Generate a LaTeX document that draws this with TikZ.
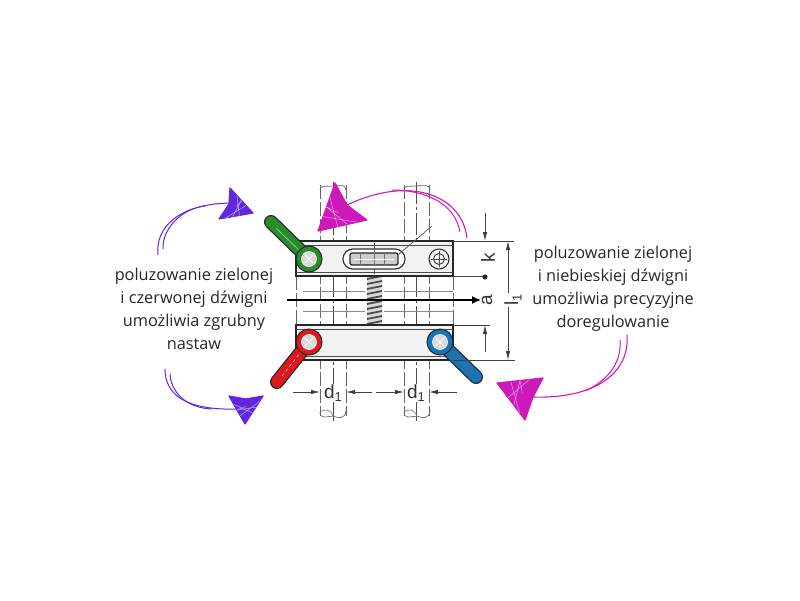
\documentclass[tikz,border=0pt]{standalone}
\usepackage{fontspec}
\setmainfont{Open Sans}
\setsansfont{Liberation Sans}
\usetikzlibrary{arrows.meta,calc}
\definecolor{violetpen}{RGB}{98,38,222}
\definecolor{magentapen}{RGB}{205,25,185}
\definecolor{handlegreen}{RGB}{40,140,40}
\definecolor{handlered}{RGB}{220,25,30}
\definecolor{handleblue}{RGB}{25,115,185}
\definecolor{partgrey}{RGB}{242,242,242}
\tikzset{
  caption/.style={align=center,font=\fontsize{16.3}{23}\selectfont,text=black!85},
  outline/.style={draw=black!85,line width=1.3pt},
  hidden/.style={draw=black!60,line width=0.8pt,dash pattern=on 14pt off 3pt},
  axisline/.style={draw=black!70,line width=0.8pt,dash pattern=on 22pt off 3pt on 3pt off 3pt},
  dimline/.style={draw=black!75,line width=0.8pt},
  dimtip/.style={dimline,-{Latex[length=9pt,width=4.5pt]}},
  dimtext/.style={font=\sffamily\fontsize{19}{19}\selectfont,text=black!80},
  lever/.style={line cap=round},
}
% Subscript one of the dimension labels
\newcommand{\subone}{\raisebox{-3.5pt}{\fontsize{13}{13}\selectfont 1}}
% Scribbled arrow head: colour, tip, two back corners, neck
\newcommand{\scribblehead}[5]{
  \fill [#1] (#2) -- (#3) -- (#5) -- (#4) -- cycle;
  \draw [#1,line width=1.2pt,line join=round] (#2) -- (#3) -- (#5) -- (#4) -- cycle;
  \foreach \t in {0.3,0.5,0.7} {
    \draw [white,opacity=0.6,line width=0.5pt] ($(#2)!\t!(#3)$) -- ($(#2)!1.1-\t!(#4)$);
  }
  \draw [white,opacity=0.6,line width=0.5pt] ($(#3)!0.5!(#2)$) -- ($(#5)!0.3!(#2)$);
}
\begin{document}
\begin{tikzpicture}[x=1pt,y=-1pt]
  \useasboundingbox (0,0) rectangle (800,600);

  % Hidden lines behind the bars
  \foreach \xa in {320,346,404,429} {
    \draw [hidden] (\xa,185) -- (\xa,416);
  }
  \foreach \xa in {333,416} {
    \draw [axisline] (\xa,182) -- (\xa,421);
  }
  \foreach \xa in {296,453} {
    \draw [hidden] (\xa,276) -- (\xa,325);
  }
  \foreach \xa in {320,404} {
    \draw [draw=black!60,line width=0.7pt] (\xa,190) .. controls (\xa,184) and (\xa+8,187) .. (\xa+13,186) .. controls (\xa+18,185) and (\xa+26,184) .. (\xa+26,190);
    \draw [draw=black!60,line width=0.7pt] (\xa,412) .. controls (\xa,419) and (\xa+6,417) .. (\xa+13,416) .. controls (\xa+17,418) and (\xa+26,420) .. (\xa+26,410);
    \draw [draw=black!50,line width=0.7pt] (\xa,412) .. controls (\xa+6,408) and (\xa+11,410) .. (\xa+13,416);
  }
  \draw [draw=black!45,line width=0.8pt] (303,291) -- (365,291) (384,291) -- (453,291);
  \draw [draw=black!45,line width=0.8pt] (303,311) -- (365,311) (384,311) -- (453,311);

  % Spring
  \fill [black!15] (367,276) rectangle (382,325);
  \foreach \ya in {278,283,...,323} {
    \draw [draw=black!70,line width=1.8pt] (367,\ya+1) -- (382,\ya-2);
  }

  % Upper bar
  \draw [outline,fill=partgrey] (296,241) rectangle (453,276);
  \draw [draw=black!70,line width=0.8pt] (296,245) -- (453,245) (296,272) -- (453,272);
  \draw [draw=black!80,line width=1.2pt,fill=white,rounded corners=9.9pt] (343,249) rectangle (405,269);
  \draw [draw=black!85,line width=1.3pt,fill=black!20,rounded corners=2pt] (350,253) rectangle (398,265);
  \draw [draw=black!55,line width=0.7pt] (360,253) -- (360,265) (374,249) -- (374,265) (384,253) -- (384,265);
  \draw [draw=white,line width=0.8pt] (354,259) -- (394,259);
  \draw [draw=black!70,line width=0.7pt] (374,243) -- (374,249) (374,269) -- (374,274);
  \draw [draw=black!65,line width=0.7pt] (399,254) -- (432,226);
  \node [circle,draw=black!85,line width=1pt,minimum size=20pt,inner sep=0pt,fill=partgrey] (screw) at (439,259) {};
  \node [circle,draw=black!85,line width=0.8pt,minimum size=11pt,inner sep=0pt] at (screw) {};
  \draw [draw=black!70,line width=0.7pt] (431,259) -- (447,259) (439,251) -- (439,267);

  % Lower bar
  \draw [outline,fill=partgrey] (296,325) rectangle (453,360);
  \draw [draw=black!70,line width=0.8pt] (296,329) -- (453,329) (296,356) -- (453,356);

  % Green lever
  \draw [lever,line width=14pt,draw=black!85] (271,222) -- (309,259);
  \draw [lever,line width=11.5pt,draw=handlegreen] (271,222) -- (309,259);
  \draw [draw=white!60!handlegreen,line width=0.6pt] (276,228) -- (304,255);
  \node [circle,draw=black!85,line width=1pt,fill=handlegreen,minimum size=26pt,inner sep=0pt] (pivotgreen) at (309,259) {};
  \node [circle,draw=white,line width=0.7pt,fill=black!15,minimum size=15pt,inner sep=0pt] at (pivotgreen) {};
  \draw [draw=white,line width=0.8pt] (305,255) -- (313,263) (305,263) -- (313,255);

  % Red lever
  \draw [lever,line width=14pt,draw=black!85] (277,382) -- (309,342);
  \draw [lever,line width=11.5pt,draw=handlered] (277,382) -- (309,342);
  \draw [draw=white!70!handlered,line width=0.6pt,dashed] (282,376) -- (304,348);
  \node [circle,draw=black!85,line width=1pt,fill=handlered,minimum size=26pt,inner sep=0pt] (pivotred) at (309,342) {};
  \node [circle,draw=white,line width=0.7pt,fill=black!15,minimum size=15pt,inner sep=0pt] at (pivotred) {};
  \draw [draw=white,line width=0.8pt] (305,338) -- (313,346) (305,346) -- (313,338);

  % Blue lever
  \draw [lever,line width=14pt,draw=black!85] (476,377) -- (440,342);
  \draw [lever,line width=11.5pt,draw=handleblue] (476,377) -- (440,342);
  \draw [draw=black!60,line width=0.6pt] (472,373) -- (445,347);
  \node [circle,draw=black!85,line width=1pt,fill=handleblue,minimum size=26pt,inner sep=0pt] (pivotblue) at (440,342) {};
  \node [circle,draw=white,line width=0.7pt,fill=black!15,minimum size=15pt,inner sep=0pt] at (pivotblue) {};
  \draw [draw=white,line width=0.8pt] (436,338) -- (444,346) (436,346) -- (444,338);

  % Dimensions
  \draw [draw=black,line width=1.5pt,-{Latex[length=9pt,width=8pt]}] (287,300) -- (481,300);
  \node [dimtext,rotate=90] (dima) at (487,300) {a};
  \draw [dimline] (453,241) -- (514,241);
  \draw [dimline] (453,276) -- (485,276);
  \draw [dimline] (453,325) -- (490,325);
  \draw [dimline] (453,360) -- (515,360);
  \draw [dimtip] (485,213) -- (485,241);
  \draw [dimtip] (485,352) -- (485,325);
  \fill [black!85] (485,277) circle (2.5pt);
  \node [dimtext,rotate=90] (dimk) at (488,258) {k};
  \draw [dimline,{Latex[length=9pt,width=4.5pt]}-{Latex[length=9pt,width=4.5pt]}] (508,241) -- (508,360);
  \node [dimtext,rotate=90,fill=white,inner sep=1pt] (diml) at (513,300) {l\subone};
  \draw [dimtip] (293,392) -- (320,392);
  \draw [dimtip] (372,392) -- (346,392);
  \draw [dimtip] (376,392) -- (404,392);
  \draw [dimtip] (457,392) -- (429,392);
  \node [dimtext,fill=white,inner sep=0.5pt] (dimd1) at (333,393) {d\subone};
  \node [dimtext,fill=white,inner sep=0.5pt] (dimd2) at (416,393) {d\subone};

  % Captions
  \node [caption] (noteleft) at (194,309) {poluzowanie zielonej\\i czerwonej dźwigni\\umożliwia zgrubny\\nastaw};
  \node [caption] (noteright) at (613,289) {poluzowanie zielonej\\i niebieskiej dźwigni\\umożliwia precyzyjne\\doregulowanie};

  % Violet arrow, top
  \draw [violetpen,line width=1pt] (158,255) .. controls (155,228) and (178,204) .. (230,203);
  \draw [violetpen,line width=1pt] (163,249) .. controls (162,230) and (180,209) .. (205,206);
  \scribblehead{violetpen}{253,213}{230,188}{219,219}{229,204}

  % Violet arrow, bottom
  \draw [violetpen,line width=1pt] (165,369) .. controls (165,393) and (183,411) .. (240,409);
  \draw [violetpen,line width=1pt] (170,374) .. controls (171,392) and (186,408) .. (212,409);
  \scribblehead{violetpen}{245,424}{229,396}{263,396}{246,399}

  % Magenta arrow, top
  \draw [magentapen,line width=1.1pt] (467,238) .. controls (462,195) and (410,175) .. (347,205);
  \draw [magentapen,line width=1pt] (460,232) .. controls (455,203) and (425,190) .. (392,190);
  \scribblehead{magentapen}{318,231}{335,183}{367,220}{347,205}

  % Magenta arrow, bottom
  \draw [magentapen,line width=1.1pt] (627,335) .. controls (630,373) and (595,399) .. (533,397);
  \draw [magentapen,line width=1pt] (620,340) .. controls (622,365) and (605,382) .. (585,391);
  \scribblehead{magentapen}{497,383}{543,378}{525,420}{533,397}

\end{tikzpicture}
\end{document}
